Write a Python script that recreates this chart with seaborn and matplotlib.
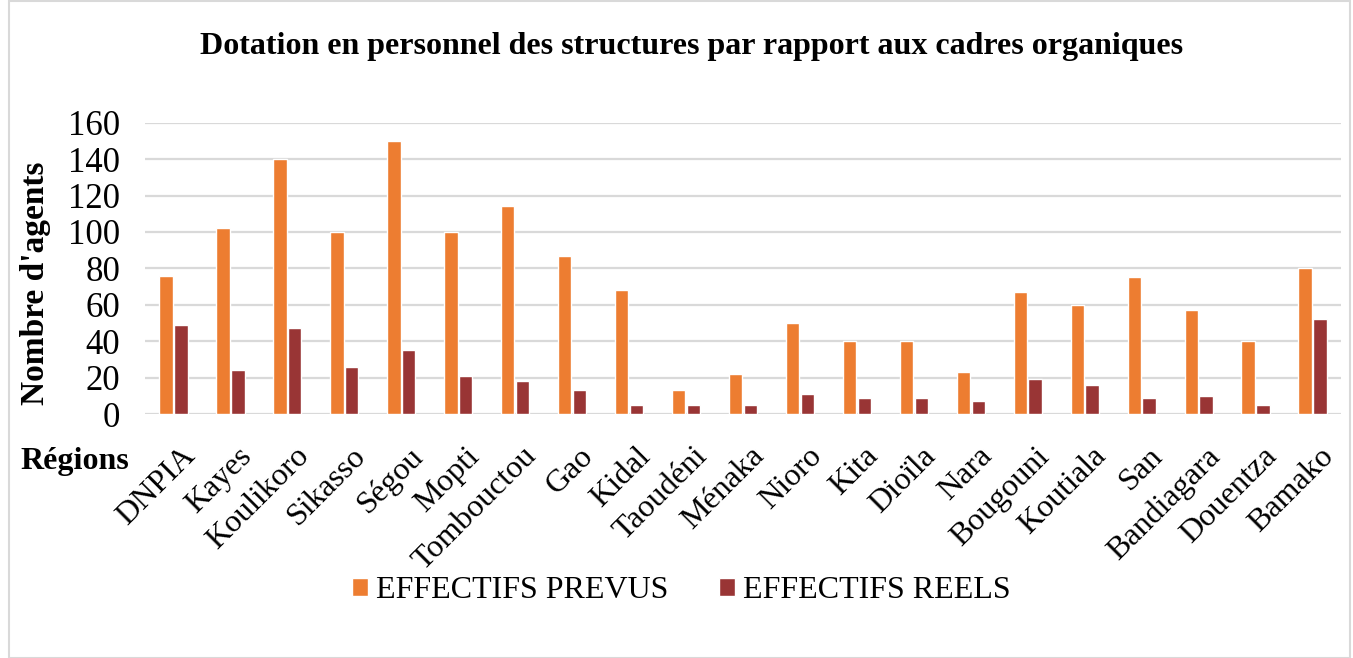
import pandas as pd
import matplotlib.pyplot as plt
import seaborn as sns
from matplotlib.patches import Rectangle
from matplotlib.transforms import ScaledTranslation

regions = ["DNPIA", "Kayes", "Koulikoro", "Sikasso", "Ségou", "Mopti", "Tombouctou",
           "Gao", "Kidal", "Taoudéni", "Ménaka", "Nioro", "Kita", "Dioïla", "Nara",
           "Bougouni", "Koutiala", "San", "Bandiagara", "Douentza", "Bamako"]
effectifs_prevus = [76, 102, 140, 100, 150, 100, 114, 87, 68, 13, 22, 50, 40, 40, 23,
                    67, 60, 75, 57, 40, 80]
effectifs_reels = [49, 24, 47, 26, 35, 21, 18, 13, 5, 5, 5, 11, 9, 9, 7,
                   19, 16, 9, 10, 5, 52]
series = ["EFFECTIFS PREVUS", "EFFECTIFS REELS"]
colors = ["#ED7D31", "#993535"]

df = pd.DataFrame({
    "region": regions * 2,
    "serie": [series[0]] * len(regions) + [series[1]] * len(regions),
    "valeur": effectifs_prevus + effectifs_reels,
})

sns.set_style("white")
plt.rcParams["font.family"] = ["Liberation Serif", "DejaVu Serif"]
plt.rcParams["text.color"] = "black"
plt.rcParams["xtick.color"] = "black"
plt.rcParams["ytick.color"] = "black"
plt.rcParams["axes.labelcolor"] = "black"

fig = plt.figure(figsize=(13.53, 6.58), dpi=100)
ax = fig.add_axes([0.1072, 0.3708, 0.8839, 0.4427])

sns.barplot(data=df, x="region", y="valeur", hue="serie", palette=colors,
            width=0.52, gap=0.1, ax=ax, saturation=1, legend=True)

ax.set_ylim(0, 160)
ax.set_yticks(range(0, 161, 20))
ax.set_xlim(-0.5, len(regions) - 0.5)
ax.yaxis.grid(True, color="#D9D9D9", linewidth=1.6)
ax.set_axisbelow(True)
for s in ax.spines.values():
    s.set_visible(False)
ax.tick_params(axis="y", labelsize=25, length=0, pad=18)
ax.tick_params(axis="x", labelsize=23, length=0, pad=20)
offset = ScaledTranslation(7 / 100, 0, fig.dpi_scale_trans)
for lab in ax.get_xticklabels():
    lab.set_rotation(45)
    lab.set_ha("right")
    lab.set_rotation_mode("anchor")
    lab.set_transform(lab.get_transform() + offset)

ax.set_xlabel("")
ax.set_ylabel("Nombre d'agents", fontsize=24, fontweight="bold")
ax.yaxis.set_label_coords(-0.079, 0.45)
fig.text(0.015, 0.298, "Régions", fontsize=23, fontweight="bold", va="center", ha="left")
fig.suptitle("Dotation en personnel des structures par rapport aux cadres organiques",
             fontsize=23, fontweight="bold", x=0.511, y=0.929, va="center")

ax.legend(loc="center", bbox_to_anchor=(0.5034, 0.102), bbox_transform=fig.transFigure,
          ncol=2, frameon=False, fontsize=23, handlelength=0.5, handleheight=0.5,
          handletextpad=0.25, columnspacing=1.6)

fig.patches.append(Rectangle((0.007, 0.0), 0.991, 0.999, transform=fig.transFigure,
                             fill=False, edgecolor="#D9D9D9", linewidth=1.5))

fig.savefig("out.png", dpi=100)
